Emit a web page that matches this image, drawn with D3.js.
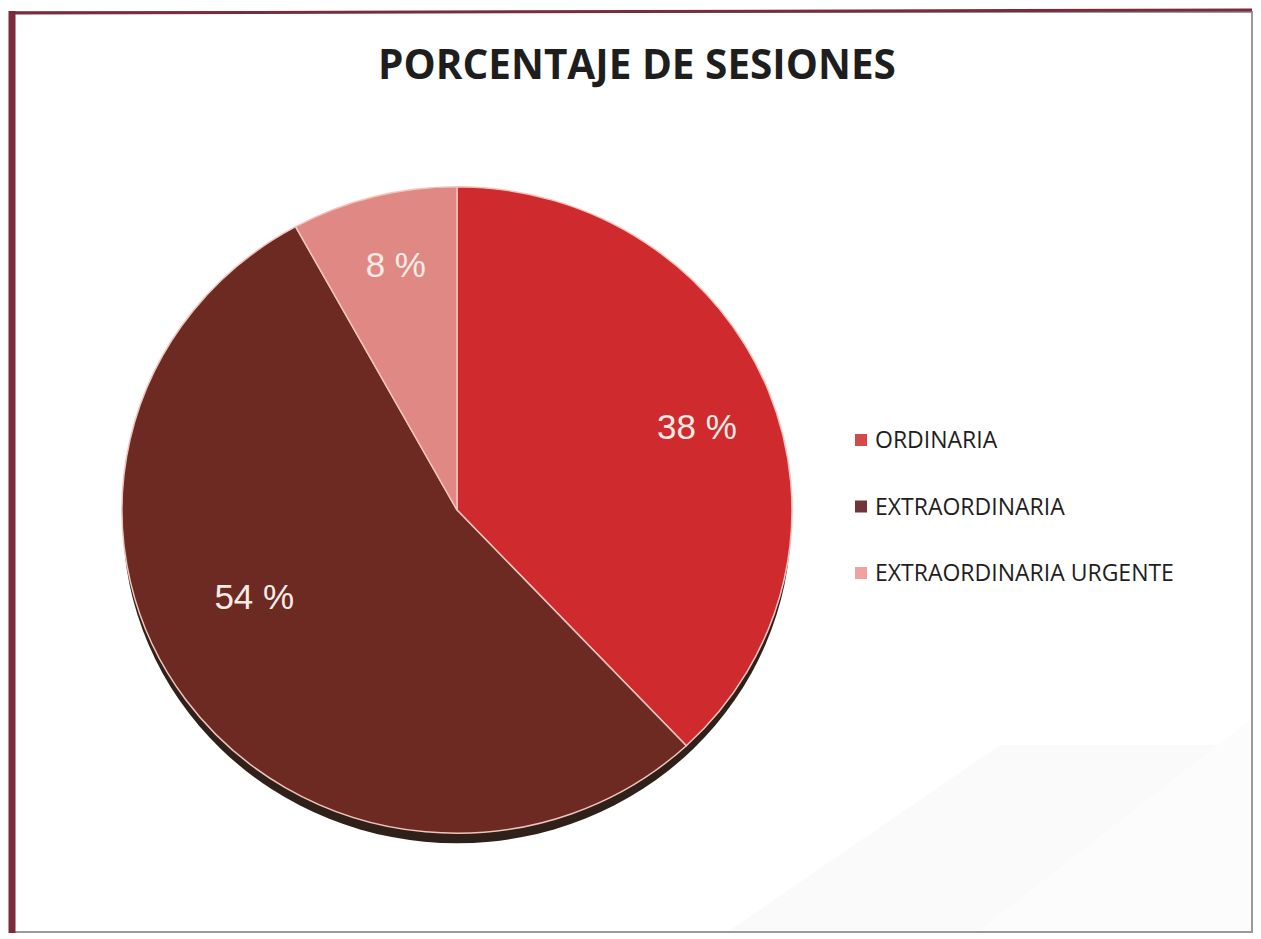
<!DOCTYPE html>
<html lang="es">
<head>
<meta charset="UTF-8">
<title>Porcentaje de sesiones</title>
<script src="https://d3js.org/d3.v7.min.js"></script>
<style>
  body { margin: 0; background: #fff; }
</style>
</head>
<body>
<svg id="chart"></svg>
<script>
// data
var categories = ["ORDINARIA", "EXTRAORDINARIA", "EXTRAORDINARIA URGENTE"];
var values = [38, 54, 8];
var sliceColors = ["#cf2a2d", "#6c2a22", "#e08984"];
var legendColors = ["#d24a4a", "#6e3636", "#f0a2a0"];

var W = 1261, H = 939;
var svg = d3.select("#chart").attr("width", W).attr("height", H);

// frame
svg.append("rect").attr("x", 0).attr("y", 0).attr("width", W).attr("height", H).attr("fill", "#fff");
svg.append("rect").attr("x", 14).attr("y", 12).attr("width", 1238).attr("height", 920)
    .attr("fill", "#fff").attr("stroke", "#9a9a9a").attr("stroke-width", 2);
// faint watermark in the corner
svg.append("path").attr("d", "M730,930 L1000,745 L1250,745 L1250,930 Z").attr("fill", "#fbfafa");
svg.append("path").attr("d", "M980,930 L1250,720 L1250,930 Z").attr("fill", "#fdfcfc");
svg.append("line").attr("x1", 12).attr("y1", 13).attr("x2", 1252).attr("y2", 10)
    .attr("stroke", "#7b2b3c").attr("stroke-width", 3);
svg.append("line").attr("x1", 12).attr("y1", 11).attr("x2", 12).attr("y2", 933)
    .attr("stroke", "#7b2b3c").attr("stroke-width", 7);

// title
svg.append("text").attr("x", 637).attr("y", 79).attr("text-anchor", "middle")
    .attr("font-family", "'Open Sans', sans-serif").attr("font-weight", "bold")
    .attr("font-size", 40.5).attr("fill", "#1e1e1e").text("PORCENTAJE DE SESIONES");

// pie
var cx = 457, cy = 510, r = 335, squash = 0.965;
var pie = d3.pie().sort(null).value(function (d) { return d.value; });
var data = categories.map(function (c, i) { return { name: c, value: values[i], color: sliceColors[i] }; });
var arcs = pie(data);
var arc = d3.arc().innerRadius(0).outerRadius(r);
var labelArc = d3.arc().innerRadius(258).outerRadius(258);

// 3D side below the face
var side = svg.append("g").attr("transform", "translate(" + cx + "," + (cy + 11) + ") scale(1," + squash + ")");
side.append("circle").attr("r", r - 1).attr("fill", "#30201a");

var g = svg.append("g").attr("transform", "translate(" + cx + "," + cy + ") scale(1," + squash + ")");
g.selectAll("path.slice")
    .data(arcs)
  .enter().append("path")
    .attr("class", "slice")
    .attr("d", arc)
    .attr("fill", function (d) { return d.data.color; })
    .attr("stroke", "#f1c4bb")
    .attr("stroke-width", 1.5);

// labels
var labelNudge = { "ORDINARIA": [0, 8], "EXTRAORDINARIA": [6, -60], "EXTRAORDINARIA URGENTE": [3, -4] };
svg.selectAll("text.pct")
    .data(arcs)
  .enter().append("text")
    .attr("class", "pct")
    .attr("x", function (d) {
      var n = labelNudge[d.data.name] || [0, 0];
      return cx + labelArc.centroid(d)[0] + n[0];
    })
    .attr("y", function (d) {
      var n = labelNudge[d.data.name] || [0, 0];
      return cy + labelArc.centroid(d)[1] * squash + n[1];
    })
    .attr("dy", "0.36em")
    .attr("text-anchor", "middle")
    .attr("font-family", "'Liberation Sans', Arial, sans-serif")
    .attr("font-size", 35)
    .attr("fill", "#f7ebe6")
    .text(function (d) { return d.data.value + " %"; });

// legend
var legY = d3.scalePoint().domain(categories).range([440, 573]);
var leg = svg.selectAll("g.leg")
    .data(categories)
  .enter().append("g")
    .attr("class", "leg")
    .attr("transform", function (d) { return "translate(855," + legY(d) + ")"; });
leg.append("rect").attr("x", 0).attr("y", -6).attr("width", 12).attr("height", 12)
    .attr("fill", function (d, i) { return legendColors[i]; });
leg.append("text").attr("x", 20).attr("y", 0).attr("dy", "0.36em")
    .attr("font-family", "'Open Sans', sans-serif").attr("font-size", 23)
    .attr("fill", "#1e1e1e").text(function (d) { return d; });
</script>
</body>
</html>
